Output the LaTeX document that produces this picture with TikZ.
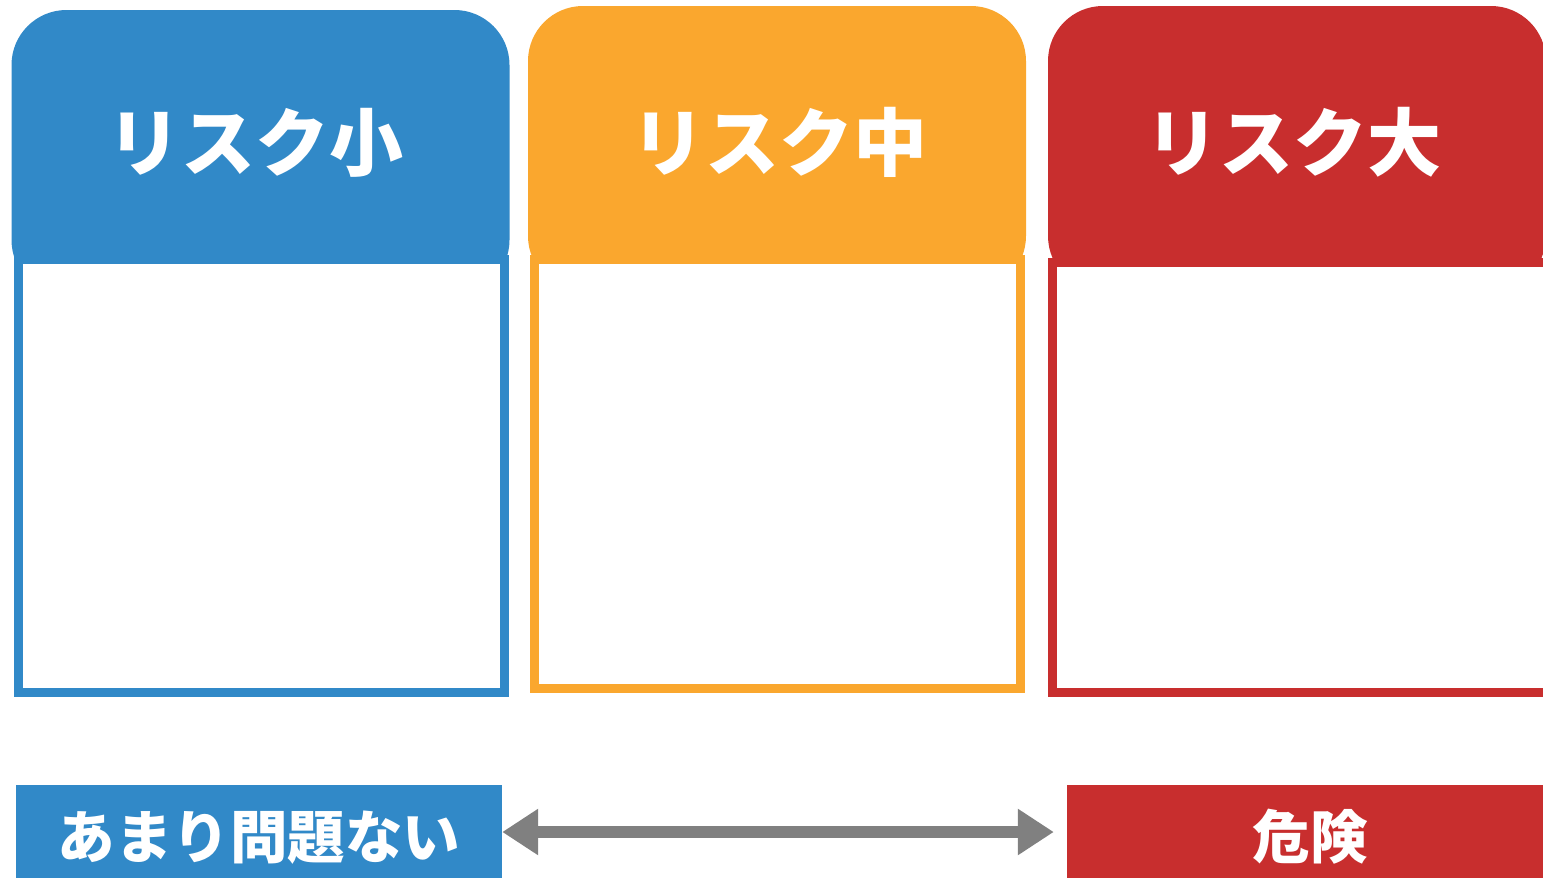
\documentclass[tikz,border=0pt]{standalone}
\usepackage{fontspec}
\newfontfamily\jpfont{Noto Sans CJK JP}
\usepackage{tikz}
\usetikzlibrary{arrows.meta,positioning}
\definecolor{riskblue}{RGB}{49,137,200}
\definecolor{riskorange}{RGB}{250,167,46}
\definecolor{riskred}{RGB}{200,46,46}
\definecolor{arrowgray}{RGB}{128,128,128}
\newcommand{\tagtext}[1]{\raisebox{-26pt}[0pt][0pt]{#1}}
\tikzset{
	x=1pt, y=-1pt,
	header/.style={rectangle, rounded corners=55pt, inner sep=0pt, minimum width=498pt, minimum height=285pt},
	panel/.style={rectangle, fill=white, line width=9pt, inner sep=0pt, minimum width=486pt},
	title/.style={text=white, inner sep=0pt, font=\jpfont\bfseries\fontsize{74}{78}\selectfont},
	tag/.style={rectangle, inner sep=0pt, minimum width=486pt, minimum height=94pt, text=white, font=\jpfont\bfseries\fontsize{57.5}{61}\selectfont},
	scalearrow/.style={draw=arrowgray, line width=12pt, {Triangle[length=36pt,width=44pt]}-{Triangle[length=36pt,width=44pt]}},
}
\begin{document}
\begin{tikzpicture}
	\useasboundingbox (0,0) rectangle (1543,878);

	% headers
	\node[header, fill=riskblue] (HeadLow) at (260.5,152.5) {};
	\node[header, fill=riskorange] (HeadMid) at (777,148.5) {};
	\node[header, fill=riskred] (HeadHigh) at (1297,148.5) {};

	% panels
	\node[panel, draw=riskblue, minimum height=433.5pt] (Low) at (261.5,475.75) {};
	\node[panel, draw=riskorange, minimum height=429.5pt] (Mid) at (777.5,473.75) {};
	\node[panel, draw=riskred, minimum width=498pt, minimum height=430pt] (High) at (1301,477.5) {};

	\node[title] (TitleLow) at (255.5,142.5) {リスク小};
	\node[title] (TitleMid) at (779.5,142.5) {リスク中};
	\node[title] (TitleHigh) at (1293.5,142.5) {リスク大};

	% scale
	\node[tag, fill=riskblue] (Safe) at (259,832) {\tagtext{あまり問題ない}};
	\node[tag, fill=riskred] (Danger) at (1310,832) {\tagtext{危険}};
	\draw[scalearrow, shorten >=13pt] (Safe) -- (Danger);
\end{tikzpicture}
\end{document}
